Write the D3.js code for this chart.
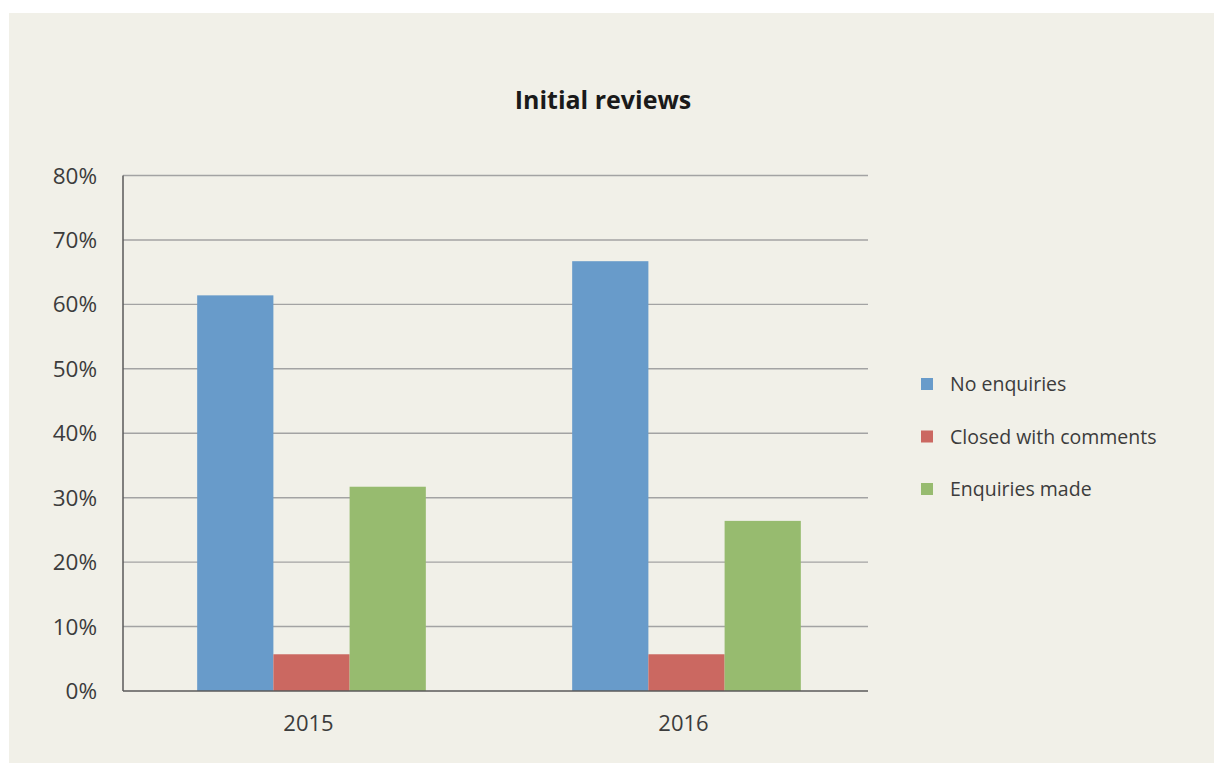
<!DOCTYPE html>
<html>
<head>
<meta charset="utf-8">
<script src="https://cdn.jsdelivr.net/npm/d3@7"></script>
<style>
  body { margin: 0; background: #fff; }
  svg text { font-family: "Open Sans", "Noto Sans", sans-serif; fill: #3c3c3c; font-weight: 400; }
</style>
</head>
<body>
<div id="chart"></div>
<script>
// DATA
let years = ["2015", "2016"];
let seriesNames = ["No enquiries", "Closed with comments", "Enquiries made"];
let noEnquiries = [61.4, 66.7];
let closedWithComments = [5.7, 5.7];
let enquiriesMade = [31.7, 26.4];
let yTicks = [0, 10, 20, 30, 40, 50, 60, 70, 80];
let colors = ["#689bca", "#cb6861", "#97bb6f"];

let seriesValues = [noEnquiries, closedWithComments, enquiriesMade];

// CHART AREA
let W = 1214, H = 763;
let margin = {top: 175.5, left: 123, right: 346, bottom: 72};
let width = W - margin.left - margin.right,
    height = H - margin.top - margin.bottom;

let svg = d3.select("#chart").append("svg")
    .attr("width", W)
    .attr("height", H);

svg.append("rect")
    .attr("x", 9).attr("y", 13)
    .attr("width", W - 9).attr("height", H - 13)
    .attr("fill", "#f1f0e8");

svg.append("text")
    .attr("x", 603).attr("y", 109)
    .attr("text-anchor", "middle")
    .attr("font-size", 25)
    .style("font-weight", "bold")
    .style("fill", "#1a1a1a")
    .text("Initial reviews");

let g = svg.append("g")
    .attr("transform", "translate(" + margin.left + "," + margin.top + ")");

// SCALES
let x0 = d3.scaleBand().domain(years).range([1, width + 6]);
let x1 = d3.scaleBand().domain(seriesNames).range([0, x0.bandwidth()]).paddingOuter(0.96);
let y = d3.scaleLinear().domain([0, 80]).range([height, 0]);

// GRID
g.selectAll(".grid")
    .data(yTicks.slice(1))
    .enter().append("line")
    .attr("x1", 0).attr("x2", width)
    .attr("y1", d => y(d)).attr("y2", d => y(d))
    .attr("stroke", "#a3a3a3")
    .attr("stroke-width", 1.4);

// Y AXIS labels
g.selectAll(".ylab")
    .data(yTicks)
    .enter().append("text")
    .attr("x", -26)
    .attr("y", d => y(d) + 8)
    .attr("text-anchor", "end")
    .attr("font-size", 22.5)
    .text(d => d + "%");

// BARS
let rows = [];
years.forEach((yr, i) => {
    seriesNames.forEach((s, j) => {
        rows.push({year: yr, series: s, value: seriesValues[j][i], color: colors[j]});
    });
});

g.selectAll(".bar")
    .data(rows)
    .enter().append("rect")
    .attr("class", "bar")
    .attr("x", d => x0(d.year) + x1(d.series))
    .attr("y", d => y(d.value))
    .attr("width", x1.bandwidth())
    .attr("height", d => height - y(d.value))
    .attr("fill", d => d.color);

// AXIS lines
g.append("line")
    .attr("x1", 0).attr("x2", 0).attr("y1", 0).attr("y2", height)
    .attr("stroke", "#5a5a5a").attr("stroke-width", 1.5);
g.append("line")
    .attr("x1", 0).attr("x2", width).attr("y1", height).attr("y2", height)
    .attr("stroke", "#5a5a5a").attr("stroke-width", 1.5);

// X labels
g.selectAll(".xlab")
    .data(years)
    .enter().append("text")
    .attr("x", d => x0(d) + x0.bandwidth() / 2 - 3)
    .attr("y", height + 39.5)
    .attr("text-anchor", "middle")
    .attr("font-size", 22)
    .text(d => d);

// LEGEND
let legend = svg.selectAll(".legend")
    .data(seriesNames)
    .enter().append("g")
    .attr("transform", (d, i) => "translate(921," + (384 + i * 52.5) + ")");

legend.append("rect")
    .attr("x", 0).attr("y", -6)
    .attr("width", 12).attr("height", 12)
    .attr("fill", (d, i) => colors[i]);

legend.append("text")
    .attr("x", 29).attr("y", 7)
    .attr("font-size", 19.5)
    .text(d => d);
</script>
</body>
</html>
